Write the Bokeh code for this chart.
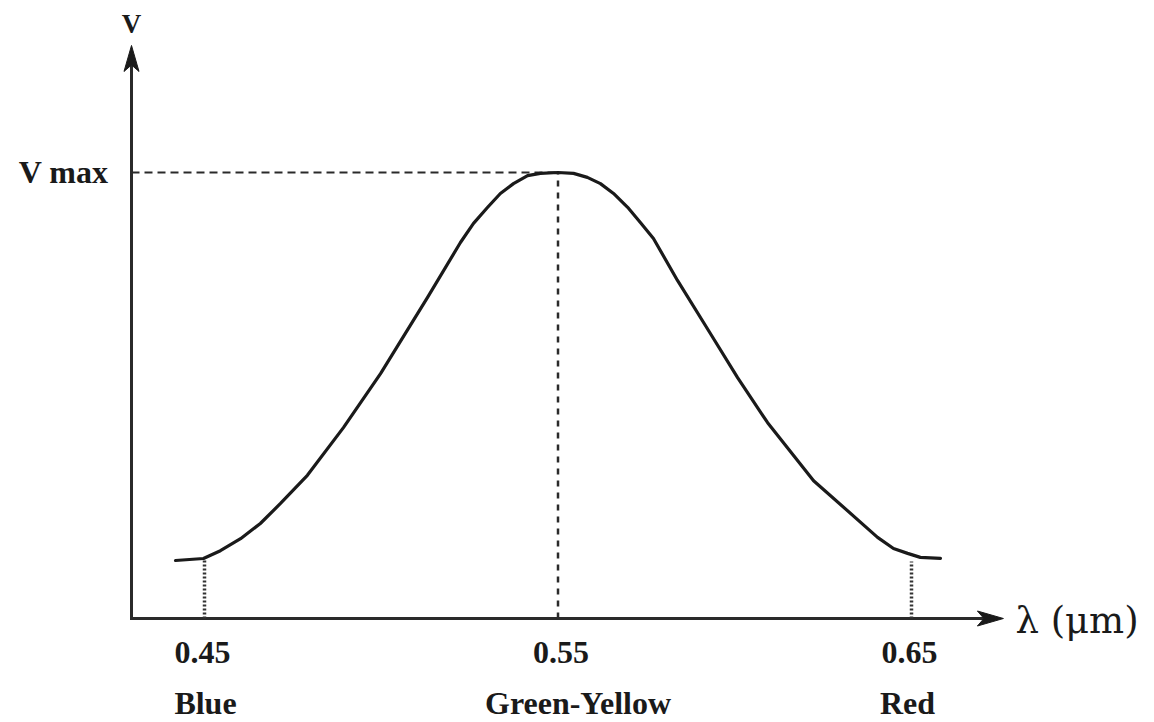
from bokeh.plotting import figure
from bokeh.models import Range1d
from bokeh.core.properties import value
from bokeh.embed import file_html
from bokeh.resources import INLINE

# ---------------- data ----------------
wavelength_um = [0.4418, 0.4497, 0.4545, 0.4602, 0.4658, 0.4715, 0.4791, 0.4893,
                 0.4998, 0.5131, 0.5224, 0.5261, 0.5301, 0.5337, 0.5374, 0.5414,
                 0.5450, 0.5500, 0.5544, 0.5583, 0.5620, 0.5657, 0.5697, 0.5733,
                 0.5770, 0.5838, 0.5931, 0.6008, 0.6093, 0.6223, 0.6404, 0.6449,
                 0.6489, 0.6525, 0.6582]
v_relative = [0.130, 0.1345, 0.152, 0.179, 0.213, 0.258, 0.321, 0.428,
              0.549, 0.720, 0.843, 0.886, 0.922, 0.953, 0.975, 0.993,
              0.998, 1.000, 0.998, 0.989, 0.975, 0.953, 0.922, 0.888,
              0.852, 0.758, 0.639, 0.540, 0.439, 0.309, 0.182, 0.157,
              0.146, 0.137, 0.135]

tick_wl = [0.45, 0.55, 0.65]
tick_labels = ["0.45", "0.55", "0.65"]
color_names = ["Blue", "Green-Yellow", "Red"]
marker_v = [0.134, 1.0, 0.128]
v_max = 1.0
x_label = "λ (μm)"
y_label = "V"
vmax_label = "V max"

# ---------------- layout ----------------
W, H = 1154, 722
X0, X1 = 0.39229, 0.71874
Y0, Y1 = -0.23318, 1.38565
sx = W / (X1 - X0)   # px per µm
sy = H / (Y1 - Y0)   # px per unit V

AX_X = 0.42935       # where the vertical axis stands
X_TIP = 0.6760       # tip of horizontal arrow
V_TIP = 1.2848       # tip of vertical arrow

FONT = value("Liberation Serif")
INK = "#1a1a1a"
AXC = "#2a2a2a"

p = figure(width=W, height=H, x_range=Range1d(X0, X1), y_range=Range1d(Y0, Y1),
           output_backend="svg", toolbar_location=None,
           x_axis_location=None, y_axis_location=None,
           min_border=0, min_border_left=0, min_border_right=0,
           min_border_top=0, min_border_bottom=0)
p.grid.visible = False
p.outline_line_color = None
p.background_fill_color = "white"
p.border_fill_color = "white"

# axes lines
hl, hw = 26, 7.5
p.segment(x0=[AX_X], y0=[-1.5 / sy], x1=[AX_X], y1=[V_TIP - hl / sy * 0.6],
          line_color=AXC, line_width=3)
p.segment(x0=[AX_X], y0=[0], x1=[X_TIP - hl / sx * 0.6], y1=[0],
          line_color=AXC, line_width=3)
# arrow heads
p.patch(x=[AX_X - hw / sx, AX_X, AX_X + hw / sx, AX_X],
        y=[V_TIP - hl / sy, V_TIP - hl * 0.75 / sy, V_TIP - hl / sy, V_TIP],
        fill_color=INK, line_color=INK, line_width=1)
p.patch(x=[X_TIP - hl / sx, X_TIP - hl * 0.75 / sx, X_TIP - hl / sx, X_TIP],
        y=[-hw / sy, 0, hw / sy, 0],
        fill_color=INK, line_color=INK, line_width=1)

# reference lines
p.segment(x0=[AX_X], y0=[v_max], x1=[tick_wl[1]], y1=[v_max],
          line_color=AXC, line_width=2.2, line_dash="8 5")
p.segment(x0=[tick_wl[1]], y0=[0], x1=[tick_wl[1]], y1=[marker_v[1]],
          line_color=AXC, line_width=2.5, line_dash="6 6")
p.segment(x0=[tick_wl[0], tick_wl[2]], y0=[0, 0],
          x1=[tick_wl[0], tick_wl[2]], y1=[marker_v[0], marker_v[2]],
          line_color="#333333", line_width=3.5, line_dash="2 2")

# curve
p.line(wavelength_um, v_relative, line_color=INK, line_width=3.2,
       line_join="round", line_cap="round")

# tick labels
p.text(x=tick_wl, y=[0, 0, 0], text=tick_labels, x_offset=[-2, 3, -2], y_offset=[34, 34, 34],
       text_font=FONT, text_font_style="bold", text_font_size="32px",
       text_align="center", text_baseline="alphabetic", text_color=INK)
p.text(x=tick_wl, y=[0, 0, 0], text=color_names, x_offset=[1, 20, -4], y_offset=[84, 84, 84],
       text_font=FONT, text_font_style="bold", text_font_size="32px",
       text_align="center", text_baseline="alphabetic", text_color=INK)

# axis labels
p.text(x=[AX_X], y=[v_max], text=[vmax_label], x_offset=[-23], y_offset=[-1],
       text_font=FONT, text_font_style="bold", text_font_size="32px",
       text_align="right", text_baseline="alphabetic", text_color=INK)
p.text(x=[AX_X], y=[V_TIP], text=[y_label], x_offset=[0], y_offset=[-21],
       text_font=FONT, text_font_style="bold", text_font_size="27px",
       text_align="center", text_baseline="alphabetic", text_color=INK)
p.text(x=[X_TIP], y=[0], text=[x_label], x_offset=[12], y_offset=[2],
       text_font=value("DejaVu Serif"), text_font_size="37px",
       text_align="left", text_baseline="alphabetic", text_color=INK)

open("out.html", "w").write(file_html(p, INLINE))
